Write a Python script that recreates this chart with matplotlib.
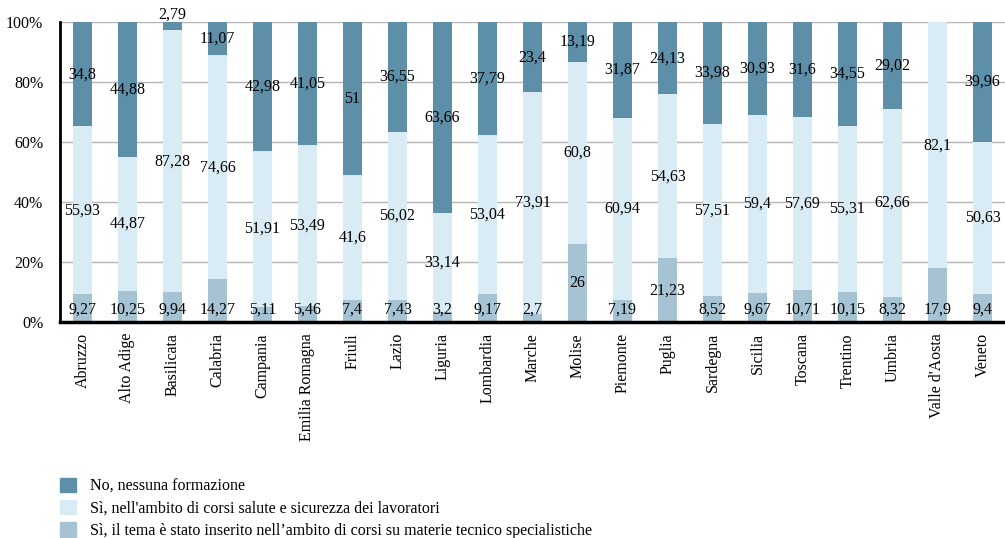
import matplotlib.pyplot as plt
from matplotlib.patches import Patch
import numpy as np

regions = ['Abruzzo', 'Alto Adige', 'Basilicata', 'Calabria', 'Campania',
           'Emilia Romagna', 'Friuli', 'Lazio', 'Liguria', 'Lombardia',
           'Marche', 'Molise', 'Piemonte', 'Puglia', 'Sardegna', 'Sicilia',
           'Toscana', 'Trentino', 'Umbria', "Valle d'Aosta", 'Veneto']

# Sì, il tema è stato inserito nell'ambito di corsi su materie tecnico specialistiche
tecnico = [9.27, 10.25, 9.94, 14.27, 5.11, 5.46, 7.4, 7.43, 3.2, 9.17, 2.7,
           26, 7.19, 21.23, 8.52, 9.67, 10.71, 10.15, 8.32, 17.9, 9.4]
# Sì, nell'ambito di corsi salute e sicurezza dei lavoratori
sicurezza = [55.93, 44.87, 87.28, 74.66, 51.91, 53.49, 41.6, 56.02, 33.14,
             53.04, 73.91, 60.8, 60.94, 54.63, 57.51, 59.4, 57.69, 55.31,
             62.66, 82.1, 50.63]
# No, nessuna formazione
nessuna = [34.8, 44.88, 2.79, 11.07, 42.98, 41.05, 51, 36.55, 63.66, 37.79,
           23.4, 13.19, 31.87, 24.13, 33.98, 30.93, 31.6, 34.55, 29.02, 0,
           39.96]

legend_labels = ['No, nessuna formazione',
                 "Sì, nell'ambito di corsi salute e sicurezza dei lavoratori",
                 'Sì, il tema è stato inserito nell’ambito di corsi su materie tecnico specialistiche']

c_no = '#5e8fa8'
c_sic = '#d9ebf4'
c_tec = '#a6c3d3'

plt.rcParams['font.family'] = ['Liberation Serif', 'DejaVu Serif']


def fmt(v):
    return '{:g}'.format(v).replace('.', ',')


tec = np.array(tecnico)
sic = np.array(sicurezza)
no = np.array(nessuna)
tot = tec + sic + no
tec_p = tec / tot * 100
sic_p = sic / tot * 100
no_p = no / tot * 100

fig = plt.figure(figsize=(10.05, 5.38), dpi=100)
ax = fig.add_axes([0.0597, 0.4015, 0.9403, 0.5575])

x = np.arange(len(regions))
w = 0.42
ax.bar(x, tec_p, w, color=c_tec, zorder=3)
ax.bar(x, sic_p, w, bottom=tec_p, color=c_sic, zorder=3)
ax.bar(x, no_p, w, bottom=tec_p + sic_p, color=c_no, zorder=3)

# data labels
for i in x:
    yb = tec_p[i] / 2 if tec_p[i] > 20 else 4.2
    ax.text(i, yb, fmt(tec[i]), ha='center', va='center', fontsize=11.5, zorder=4)
    ax.text(i, tec_p[i] + sic_p[i] / 2, fmt(sic[i]), ha='center', va='center',
            fontsize=11.5, zorder=4)
    if no[i] > 0:
        yt = 100 - no_p[i] / 2 if no_p[i] > 5 else 102.5
        ax.text(i, yt, fmt(no[i]), ha='center', va='center', fontsize=11.5,
                zorder=4, clip_on=False)

ax.set_xlim(-0.5, len(regions) - 0.5)
ax.set_ylim(0, 100)
ax.set_yticks([0, 20, 40, 60, 80, 100])
ax.set_yticklabels(['0%', '20%', '40%', '60%', '80%', '100%'], fontsize=11.5)
ax.set_xticks(x)
ax.set_xticklabels(regions, rotation=90, fontsize=11.5)
ax.tick_params(axis='both', length=0)
ax.tick_params(axis='y', pad=12)
ax.tick_params(axis='x', pad=8)

ax.yaxis.grid(True, color='#b5b5b5', linewidth=1, zorder=0)
ax.set_axisbelow(True)
for s in ['top', 'right']:
    ax.spines[s].set_visible(False)
ax.spines['left'].set_linewidth(2)
ax.spines['bottom'].set_linewidth(2.5)
ax.spines['left'].set_zorder(5)
ax.spines['bottom'].set_zorder(5)

handles = [Patch(color=c_no), Patch(color=c_sic), Patch(color=c_tec)]
fig.legend(handles, legend_labels, loc='upper left',
           bbox_to_anchor=(0.0597, 0.112), frameon=False, fontsize=11.5,
           borderpad=0, borderaxespad=0, handlelength=1.0, handleheight=1.0,
           handletextpad=0.9, labelspacing=0.36)

fig.savefig('out.png', dpi=100)
